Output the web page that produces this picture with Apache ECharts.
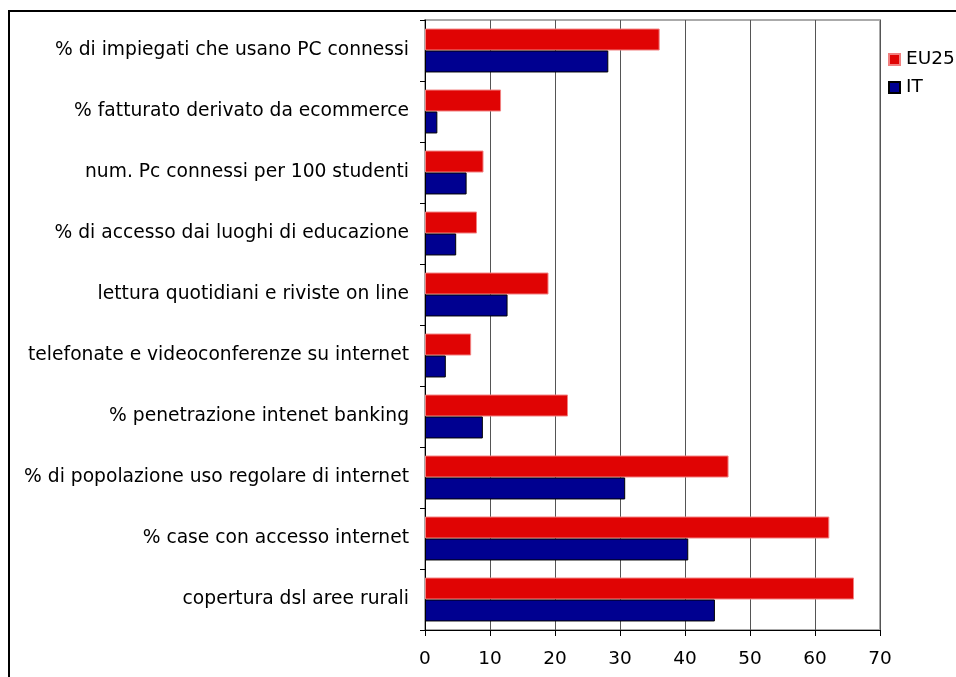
<!DOCTYPE html>
<html>
<head>
<meta charset="utf-8">
<script src="https://cdn.jsdelivr.net/npm/echarts@6/dist/echarts.min.js"></script>
<style>
html,body{margin:0;padding:0;background:#fff;}
#c{width:956px;height:677px;}
</style>
</head>
<body>
<div id="c"></div>
<script>
var categories = ['% di impiegati che usano PC connessi', '% fatturato derivato da ecommerce', 'num. Pc connessi per 100 studenti', '% di accesso dai luoghi di educazione', 'lettura quotidiani e riviste on line', 'telefonate e videoconferenze su internet', '% penetrazione intenet banking', '% di popolazione uso regolare di internet', '% case con accesso internet', 'copertura dsl aree rurali'];
var eu25 = [36.1, 11.7, 9.0, 8.0, 19.0, 7.1, 22.0, 46.7, 62.2, 66.0];
var it = [28.2, 1.9, 6.4, 4.8, 12.7, 3.2, 8.9, 30.8, 40.5, 44.6];
var xTicks = [0, 10, 20, 30, 40, 50, 60, 70];

var chart = echarts.init(document.getElementById('c'), null, {renderer: 'canvas'});
var font = '"DejaVu Sans", Verdana, sans-serif';
chart.setOption({
  animation: false,
  graphic: [
    {type: 'line', shape: {x1: 9, y1: 11, x2: 956, y2: 11}, style: {stroke: '#000', lineWidth: 2}},
    {type: 'line', shape: {x1: 9, y1: 10, x2: 9, y2: 677}, style: {stroke: '#000', lineWidth: 2}}
  ],
  grid: {left: 425, top: 20, width: 455, height: 610, show: true, borderColor: '#aaa', borderWidth: 2, containLabel: false},
  legend: {
    orient: 'vertical', left: 883, top: 45, itemWidth: 11, itemHeight: 11, itemGap: 9,
    icon: 'rect',
    textStyle: {fontFamily: font, fontSize: 18.5, color: '#000', padding: [0, 0, 0, 1]},
    data: ['EU25', 'IT']
  },
  xAxis: {
    type: 'value', min: 0, max: 70, interval: 10,
    axisLine: {show: true, lineStyle: {color: '#000', width: 1}},
    axisTick: {show: true, length: 6, lineStyle: {color: '#000'}},
    axisLabel: {fontFamily: font, fontSize: 18.5, color: '#000', margin: 20,
      formatter: function (v) { return xTicks.indexOf(v) >= 0 ? String(v) : ''; }},
    splitLine: {show: true, lineStyle: {color: '#555', width: 1}}
  },
  yAxis: {
    type: 'category', data: categories, inverse: true,
    axisLine: {show: true, lineStyle: {color: '#000', width: 1}},
    axisTick: {show: true, length: 5, lineStyle: {color: '#000'}},
    axisLabel: {fontFamily: font, fontSize: 18.7, color: '#000', margin: 16, padding: [3, 0, 0, 0]}
  },
  series: [
    {name: 'EU25', type: 'bar', data: eu25, barGap: '0%', barCategoryGap: '28%',
     itemStyle: {color: '#e00404', borderColor: '#f28080', borderWidth: 1}},
    {name: 'IT', type: 'bar', data: it, barGap: '0%', barCategoryGap: '28%',
     itemStyle: {color: '#000090', borderColor: '#000', borderWidth: 1}}
  ]
});
</script>
</body>
</html>
